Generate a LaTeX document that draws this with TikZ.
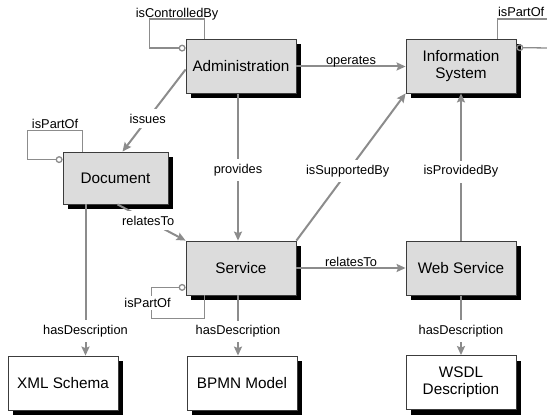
\documentclass[tikz,border=0pt]{standalone}
\usepackage{fontspec}
\setmainfont{Liberation Sans}
\usetikzlibrary{calc}
\usetikzlibrary{arrows.meta}
\usetikzlibrary{shadows}

\definecolor{linegray}{RGB}{140,140,140}
\definecolor{boxgray}{RGB}{220,220,220}
\definecolor{edgegray}{RGB}{60,60,60}

\begin{document}
\begin{tikzpicture}[x=1pt, y=-1pt,
  classbox/.style={draw=edgegray, line width=0.8pt, fill=boxgray, minimum width=110pt, minimum height=54pt,
    align=center, inner sep=0pt, font=\fontsize{15.3}{17}\selectfont,
    drop shadow={shadow xshift=5pt, shadow yshift=-5pt, fill=black, opacity=1}},
  valuebox/.style={classbox, fill=white},
  rel/.style={draw=linegray, line width=2pt, arrows={-Stealth[length=9pt, width=8pt, inset=1.5pt]}},
  selfrel/.style={draw=linegray, line width=1.3pt, arrows={-Circle[open, length=7pt, width=7pt]}},
  lbl/.style={font=\fontsize{12.8}{14}\selectfont, fill=white, inner xsep=2pt, inner ysep=5pt},
  toplbl/.style={font=\fontsize{12.8}{14}\selectfont, inner sep=0pt, anchor=base, yshift=2pt}]
\useasboundingbox (0,0) rectangle (547,417);

\node[classbox] (adm) at (241,66.5) {Administration};
\node[classbox] (info) at (461,66) {Information\\System};
\node[classbox, minimum width=105pt, minimum height=52pt] (doc) at (115.5,178) {Document};
\node[classbox] (serv) at (241,268) {Service};
\node[classbox] (ws) at (461,268.5) {Web Service};
\node[valuebox] (xml) at (63,383) {XML Schema};
\node[valuebox] (bpmn) at (242,383) {BPMN Model};
\node[valuebox] (wsdl) at (461,382.5) {WSDL\\Description};

\draw[rel] (adm.east) -- node[toplbl] {operates} (adm.east -| info.west);
\draw[rel] ([yshift=-3pt]adm.west) -- node[lbl, pos=0.6] {issues} ([xshift=7pt]doc.north);
\draw[rel] ([xshift=-3pt]adm.south) -- node[lbl, pos=0.52] {provides} ([xshift=-3pt]serv.north);
\draw[rel] (serv.north east) -- node[lbl, pos=0.47] {isSupportedBy} (info.south west);
\draw[rel] (ws.north) -- node[lbl, pos=0.47] {isProvidedBy} (ws.north |- info.south);
\draw[rel] (serv.east) -- node[toplbl] {relatesTo} (serv.east -| ws.west);
\draw[rel] ([xshift=2pt]doc.south) -- node[lbl, pos=0.45] {relatesTo} (serv.north west);
\draw[rel] ([xshift=-30pt]doc.south) -- node[lbl, pos=0.84] {hasDescription} ([xshift=-30pt]doc.south |- xml.north);
\draw[rel] ([xshift=-3pt]serv.south) -- node[lbl, pos=0.6] {hasDescription} ([xshift=-3pt]serv.south |- bpmn.north);
\draw[rel] (ws.south) -- node[lbl, pos=0.6] {hasDescription} (ws.south |- wsdl.north);

\draw[selfrel] ([xshift=19pt]adm.north west) -- ++(0,-20) -| node[toplbl, pos=0.25] {isControlledBy} ++(-55,29) -- ([yshift=-9pt]adm.north west);
\draw[selfrel] ([xshift=20pt]doc.north west) -- ++(0,-21) -| node[toplbl, pos=0.25] {isPartOf} ++(-55,29) -- ([yshift=-8pt]doc.north west);
\draw[selfrel] ([xshift=19pt]serv.south west) -- ++(0,23) -| node[lbl, pos=0.75, xshift=-4pt, inner ysep=2pt] {isPartOf} ++(-53,-31) -- ([yshift=8pt]serv.south west);

\coordinate (infoup) at (549,19);
\coordinate (infoback) at (549,48);
\draw[selfrel, arrows=-] ([xshift=-19pt]info.north east) |- node[toplbl, pos=0.5, anchor=base west] {isPartOf} (infoup);
\draw[selfrel] (infoback) -- ([yshift=-9pt]info.north east);

\end{tikzpicture}
\end{document}
